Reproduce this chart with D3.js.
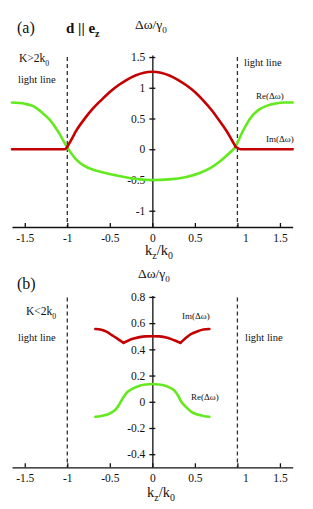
<!DOCTYPE html>
<html>
<head>
<meta charset="utf-8">
<script src="https://cdn.jsdelivr.net/npm/d3@7"></script>
<style>
  body { margin: 0; background: #fff; }
  .axis path, .axis line { stroke: #111; stroke-width: 1.3; }
</style>
</head>
<body>
<script>
// panel (a): K > 2k0, [kz/k0, value]
const reA = [[-1.65,0.76],[-1.5,0.74],[-1.4,0.70],[-1.3,0.60],[-1.2,0.47],[-1.1,0.27],[-1.0,0.03],
  [-0.9,-0.16],[-0.8,-0.27],[-0.7,-0.33],[-0.6,-0.37],[-0.45,-0.42],[-0.3,-0.46],[-0.15,-0.49],[0,-0.5],
  [0.2,-0.49],[0.4,-0.45],[0.55,-0.39],[0.7,-0.29],[0.8,-0.19],[0.9,-0.07],[0.97,0.03],[1.07,0.31],
  [1.15,0.5],[1.25,0.64],[1.35,0.71],[1.45,0.745],[1.55,0.76],[1.65,0.76]];
const imA = [[-1.65,0],[-1.03,0],[-1.0,0.04],[-0.95,0.16],[-0.9,0.29],[-0.8,0.49],[-0.7,0.66],[-0.6,0.8],
  [-0.5,0.93],[-0.4,1.04],[-0.3,1.13],[-0.2,1.2],[-0.1,1.245],[0,1.26],[0.1,1.245],[0.2,1.2],[0.3,1.13],
  [0.4,1.04],[0.5,0.93],[0.6,0.79],[0.7,0.63],[0.78,0.48],[0.88,0.28],[0.93,0.16],[0.98,0.04],[1.04,0],[1.65,0]];
const imABreaks = [-1.0, 0.98];

// panel (b): K < 2k0
const reB = [[-0.67,-0.115],[-0.6,-0.108],[-0.52,-0.095],[-0.46,-0.075],[-0.42,-0.05],[-0.38,-0.01],
  [-0.34,0.035],[-0.3,0.07],[-0.26,0.09],[-0.2,0.11],[-0.14,0.125],[-0.07,0.132],[0,0.135],
  [0.07,0.132],[0.14,0.125],[0.2,0.11],[0.26,0.085],[0.3,0.05],[0.34,0.0],[0.38,-0.03],[0.42,-0.055],
  [0.46,-0.077],[0.52,-0.095],[0.6,-0.108],[0.67,-0.115]];
const imB = [[-0.67,0.555],[-0.6,0.55],[-0.54,0.535],[-0.48,0.51],[-0.42,0.485],[-0.34,0.45],
  [-0.28,0.468],[-0.22,0.482],[-0.15,0.493],[-0.08,0.499],[0,0.5],[0.08,0.499],[0.15,0.492],
  [0.23,0.476],[0.28,0.463],[0.33,0.45],[0.39,0.485],[0.45,0.515],[0.54,0.54],[0.6,0.552],[0.67,0.555]];
const imBBreaks = [-0.34, 0.33];

const xTicks = [-1.5, -1, -0.5, 0, 0.5, 1, 1.5];
const yTicksA = [1.5, 1, 0.5, 0, -0.5, -1];
const yTicksB = [0.8, 0.6, 0.4, 0.2, 0, -0.2, -0.4];
const lightLines = [-1, 1];

const red = "#c40000", green = "#62ea1e";
const serif = "'Liberation Serif', 'Times New Roman', 'DejaVu Serif', serif";

const svg = d3.select("body").append("svg")
  .attr("width", 313).attr("height", 509)
  .attr("font-family", serif);

const x = d3.scaleLinear().domain([-1.65, 1.65]).range([12, 292.7]);

function splitAt(data, breaks) {
  const segs = [[]];
  data.forEach(d => {
    segs[segs.length - 1].push(d);
    if (breaks.includes(d[0])) segs.push([d]);
  });
  return segs;
}

function panel(y, yTicks, series) {
  const g = svg.append("g");
  const y0 = y.range()[0];

  // light lines
  g.selectAll(".ll").data(lightLines).enter().append("line")
    .attr("x1", d => x(d)).attr("x2", d => x(d))
    .attr("y1", y.range()[1] + 2).attr("y2", y0)
    .attr("stroke", "#2b3040").attr("stroke-width", 1.3)
    .attr("stroke-dasharray", "4,3");

  const xAxis = d3.axisBottom(x).tickValues(xTicks)
    .tickFormat(d => String(d)).tickSize(-4).tickSizeOuter(0).tickPadding(7);
  const xg = g.append("g").attr("class", "axis")
    .attr("transform", "translate(0," + y0 + ")").call(xAxis)
    .attr("font-family", serif).attr("font-size", 11.5);
  xg.selectAll("text").attr("fill", "#111")
    .attr("dx", d => d === 1 ? 8 : 0);

  const yAxis = d3.axisLeft(y).tickValues(yTicks)
    .tickFormat(d => String(d)).tickSize(3).tickSizeOuter(0).tickPadding(4);
  const yg = g.append("g").attr("class", "axis")
    .attr("transform", "translate(" + x(0) + ",0)").call(yAxis)
    .attr("font-family", serif).attr("font-size", 11.5);
  yg.selectAll(".tick line").attr("x1", -3).attr("x2", 3);
  yg.selectAll("text").attr("fill", "#111");

  const line = d3.line().x(d => x(d[0])).y(d => y(d[1])).curve(d3.curveMonotoneX);
  series.forEach(s => {
    g.selectAll(null).data(splitAt(s.data, s.breaks || [])).enter().append("path")
      .attr("d", line).attr("fill", "none")
      .attr("stroke", s.color).attr("stroke-width", 2.6)
      .attr("stroke-linecap", "round").attr("stroke-linejoin", "round");
  });
  return g;
}

const yA = d3.scaleLinear().domain([-1.265, 1.533]).range([227, 55]);
const yB = d3.scaleLinear().domain([-0.5, 0.81]).range([467.3, 295.6]);

panel(yA, yTicksA, [
  {data: reA, color: green},
  {data: imA, color: red, breaks: imABreaks}
]);
panel(yB, yTicksB, [
  {data: reB, color: green},
  {data: imB, color: red, breaks: imBBreaks}
]);

function label(xp, yp, size, parts, anchor) {
  const t = svg.append("text").attr("x", xp).attr("y", yp)
    .attr("font-family", serif).attr("fill", "#111")
    .style("font-size", size + "px").attr("text-anchor", anchor || "start");
  parts.forEach(p => {
    const ts = t.append("tspan").text(p.t);
    if (p.sub) ts.attr("dy", 4).style("font-size", (size * 0.68) + "px");
    if (p.up) ts.attr("dy", -4);
    if (p.bold) ts.style("font-weight", "bold");
  });
  return t;
}

const yLabel = [{t: "Δω/γ"}, {t: "0", sub: true}];
const kLabel = [{t: "k"}, {t: "z", sub: true}, {t: "/k", up: true}, {t: "0", sub: true}];

// panel (a) annotations
label(17, 33, 16, [{t: "(a)"}]);
label(66, 33, 15, [{t: "d || e", bold: true}, {t: "z", sub: true, bold: true}]);
label(135, 29, 13.5, yLabel);
label(19, 62, 11.5, [{t: "K>2k"}, {t: "0", sub: true}]);
label(18, 83, 10.5, [{t: "light line"}]);
label(244, 66, 10.5, [{t: "light line"}]);
label(256, 99, 9, [{t: "Re(Δω)"}]);
label(266, 142, 9, [{t: "Im(Δω)"}]);
label(145, 255, 14.5, kLabel);

// panel (b) annotations
label(17, 289, 16, [{t: "(b)"}]);
label(138, 278, 13.5, yLabel);
label(26, 315, 11.5, [{t: "K<2k"}, {t: "0", sub: true}]);
label(18, 341, 10.5, [{t: "light line"}]);
label(245, 341, 10.5, [{t: "light line"}]);
label(182, 319, 9, [{t: "Im(Δω)"}]);
label(191, 400, 9, [{t: "Re(Δω)"}]);
label(147, 497, 14.5, kLabel);
</script>
</body>
</html>
